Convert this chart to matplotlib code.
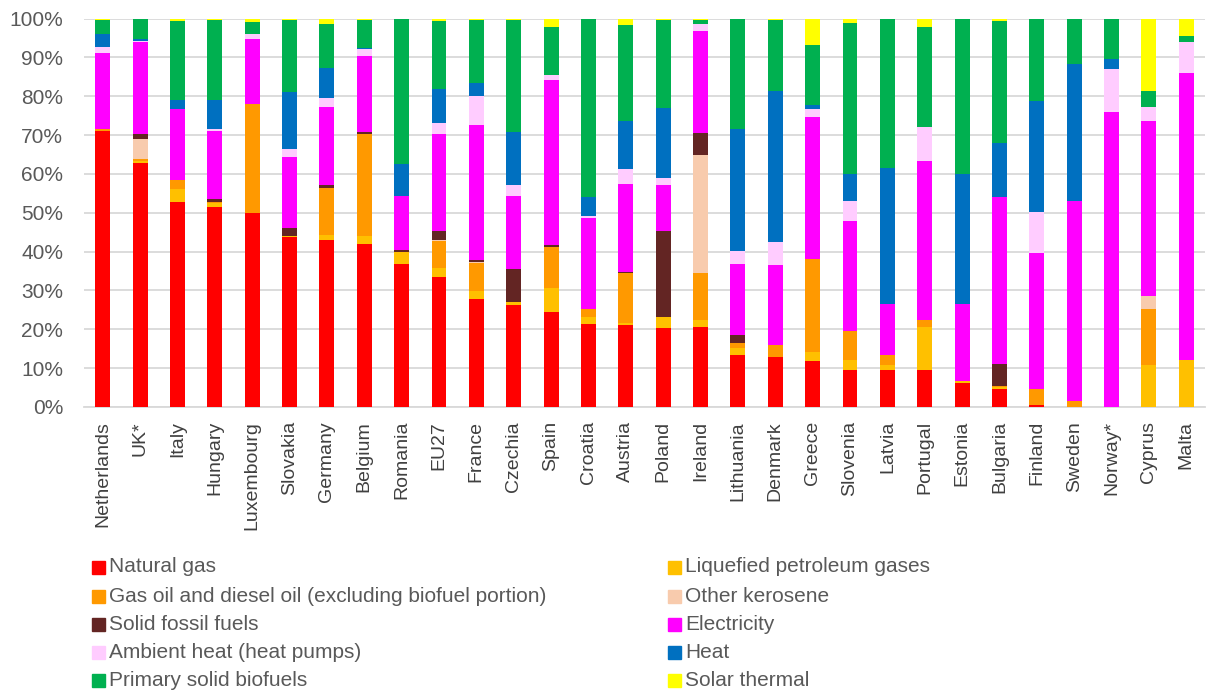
import matplotlib
matplotlib.use("Agg")
import matplotlib.pyplot as plt
from matplotlib.patches import Rectangle
from matplotlib.ticker import PercentFormatter
import numpy as np

countries = ["Netherlands", "UK*", "Italy", "Hungary", "Luxembourg", "Slovakia", "Germany",
             "Belgium", "Romania", "EU27", "France", "Czechia", "Spain", "Croatia", "Austria",
             "Poland", "Ireland", "Lithuania", "Denmark", "Greece", "Slovenia", "Latvia",
             "Portugal", "Estonia", "Bulgaria", "Finland", "Sweden", "Norway*", "Cyprus", "Malta"]

natural_gas = [71.1, 62.9, 52.7, 51.6, 49.9, 43.7, 43.0, 42.0, 36.8, 33.4, 27.9, 26.2, 24.5, 21.4, 21.0,
               20.3, 20.7, 13.5, 12.9, 11.8, 9.5, 9.5, 9.5, 6.1, 4.6, 0.5, 0.0, 0.0, 0.0, 0.0]
lpg = [0.0, 0.5, 3.3, 1.0, 0.0, 0.3, 1.3, 2.0, 3.0, 2.4, 2.0, 0.7, 6.1, 1.8, 0.5,
       2.8, 1.7, 1.7, 0.0, 2.4, 2.6, 1.3, 11.2, 0.6, 0.6, 0.0, 0.0, 0.0, 10.7, 12.1]
gas_oil = [0.5, 0.5, 2.4, 0.2, 28.0, 0.0, 12.0, 26.2, 0.0, 6.9, 7.2, 0.0, 10.7, 1.9, 12.9,
           0.0, 12.0, 1.4, 3.1, 23.8, 7.5, 2.7, 1.7, 0.0, 0.3, 4.1, 1.5, 0.0, 14.4, 0.0]
kerosene = [0.0, 5.2, 0.0, 0.0, 0.0, 0.0, 0.0, 0.0, 0.0, 0.3, 0.3, 0.0, 0.0, 0.0, 0.0,
            0.0, 30.5, 0.0, 0.0, 0.0, 0.0, 0.0, 0.0, 0.0, 0.0, 0.0, 0.0, 0.0, 3.5, 0.0]
solid_fossil = [0.0, 1.2, 0.0, 0.8, 0.0, 2.0, 0.8, 0.5, 0.5, 2.4, 0.4, 8.5, 0.4, 0.0, 0.3,
                22.3, 5.5, 2.0, 0.0, 0.0, 0.0, 0.0, 0.0, 0.0, 5.6, 0.0, 0.0, 0.0, 0.0, 0.0]
electricity = [19.4, 23.6, 18.2, 17.5, 16.9, 18.3, 20.2, 19.6, 14.1, 24.8, 34.7, 19.0, 42.5, 23.5, 22.7,
               11.7, 26.5, 18.2, 20.5, 36.6, 28.3, 13.0, 40.9, 19.8, 42.9, 35.0, 51.4, 76.0, 45.0, 73.8]
ambient_heat = [1.7, 0.3, 0.0, 0.4, 1.3, 2.0, 2.3, 1.8, 0.0, 3.0, 7.6, 2.7, 1.3, 0.6, 3.8,
                1.8, 1.7, 3.4, 5.9, 2.0, 5.0, 0.0, 8.8, 0.0, 0.0, 10.6, 0.0, 10.9, 3.7, 8.1]
heat = [3.2, 0.5, 2.4, 7.5, 0.0, 14.8, 7.7, 0.3, 8.1, 8.6, 3.4, 13.7, 0.0, 4.8, 12.4,
        18.1, 0.0, 31.3, 39.0, 1.1, 7.0, 35.1, 0.0, 33.4, 14.0, 28.6, 35.5, 2.8, 0.0, 0.0]
biofuels = [3.7, 5.3, 20.4, 20.6, 3.1, 18.5, 11.3, 7.2, 37.5, 17.6, 16.1, 28.8, 12.4, 46.0, 24.7,
            22.6, 1.0, 28.5, 18.2, 15.5, 39.0, 38.4, 25.8, 40.1, 31.4, 21.2, 11.6, 10.3, 4.1, 1.6]
solar = [0.4, 0.0, 0.6, 0.4, 0.8, 0.4, 1.4, 0.4, 0.0, 0.6, 0.4, 0.4, 2.1, 0.0, 1.7,
         0.4, 0.4, 0.0, 0.4, 6.8, 1.1, 0.0, 2.1, 0.0, 0.6, 0.0, 0.0, 0.0, 18.6, 4.4]

series_names = ["Natural gas", "Liquefied petroleum gases",
                "Gas oil and diesel oil (excluding biofuel portion)", "Other kerosene",
                "Solid fossil fuels", "Electricity", "Ambient heat (heat pumps)", "Heat",
                "Primary solid biofuels", "Solar thermal"]
series_values = [natural_gas, lpg, gas_oil, kerosene, solid_fossil, electricity,
                 ambient_heat, heat, biofuels, solar]
colors = ["#FF0000", "#FFC000", "#FF9900", "#F8CBAD", "#632523", "#FF00FF",
          "#FFCCFF", "#0070C0", "#00B050", "#FFFF00"]

FONT = ["Liberation Sans", "DejaVu Sans"]
plt.rcParams["font.family"] = FONT
TXT = "#595959"

fig = plt.figure(figsize=(12.08, 6.92), dpi=100)
ax = fig.add_axes([84 / 1208, 285 / 692, (1205 - 84) / 1208, (407 - 18.5) / 692])

data = np.array(series_values, dtype=float)
data = data / data.sum(axis=0) * 100.0
x = np.arange(len(countries))
bottom = np.zeros(len(countries))
for vals, col, name in zip(data, colors, series_names):
    ax.bar(x, vals, bottom=bottom, width=0.40, color=col, label=name, zorder=3,
           edgecolor="none")
    bottom += vals

ax.set_xlim(-0.5, len(countries) - 0.5)
ax.set_ylim(0, 100)
ax.set_yticks(np.arange(0, 101, 10))
ax.yaxis.set_major_formatter(PercentFormatter(decimals=0))
ax.grid(axis="y", color="#D9D9D9", linewidth=1.3, zorder=0)
for s in ["top", "right", "left"]:
    ax.spines[s].set_visible(False)
ax.spines["bottom"].set_color("#D9D9D9")
ax.spines["bottom"].set_linewidth(1.3)
ax.tick_params(axis="y", length=0, labelsize=15, labelcolor=TXT, pad=15)
ax.tick_params(axis="x", length=0, labelsize=14, labelcolor="#404040", pad=10)
ax.set_xticks(x)
ax.set_xticklabels(countries, rotation=90)

# legend, two columns laid out below the plot
col_x = [92, 668]
row_y = [567, 596, 624, 652, 680]
for i, (name, col) in enumerate(zip(series_names, colors)):
    c = i % 2
    r = i // 2
    px, py = col_x[c], row_y[r]
    fig.patches.append(Rectangle((px / 1208, (692 - py - 6.5) / 692), 13 / 1208, 13 / 692,
                                 transform=fig.transFigure, color=col, figure=fig))
    fig.text((px + 17) / 1208, (692 - py) / 692, name, fontsize=15, color=TXT,
             va="center", ha="left")

fig.savefig("out.png", dpi=100)
